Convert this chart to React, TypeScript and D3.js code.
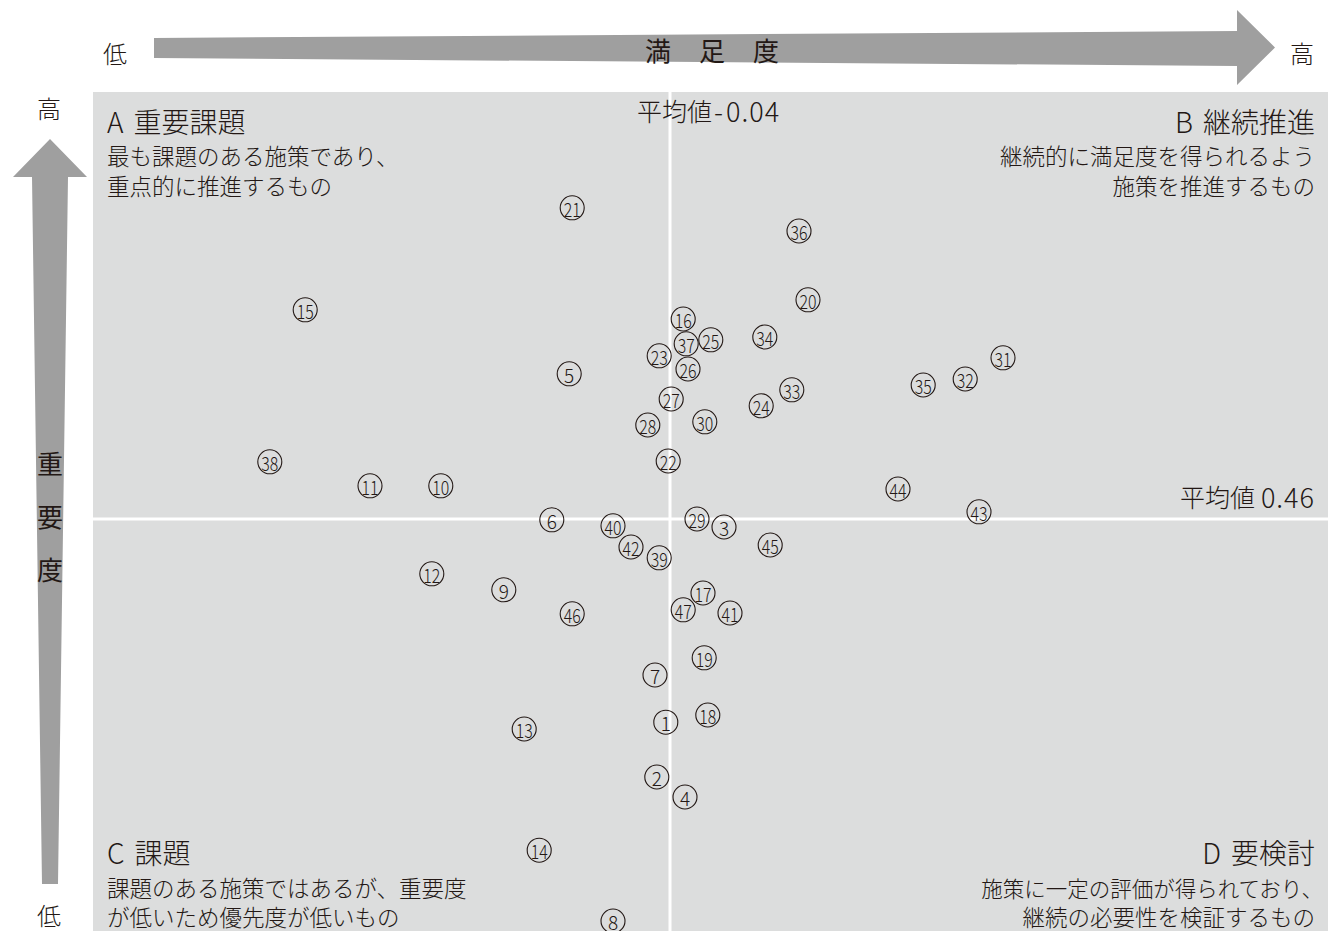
import React from 'react';
import * as d3 from 'd3';

// 施策番号ごとの満足度・重要度（平均値で原点を合わせたスコア）
const ids = [
  1, 2, 3, 4, 5, 6, 7, 8, 9, 10, 11, 12, 13, 14, 15, 16, 17, 18, 19, 20, 21, 22, 23, 24,
  25, 26, 27, 28, 29, 30, 31, 32, 33, 34, 35, 36, 37, 38, 39, 40, 41, 42, 43, 44, 45, 46, 47,
];
const satisfaction = [
  -0.047, -0.062, 0.05, -0.015, -0.208, -0.237, -0.065, -0.135, -0.317, -0.422, -0.54, -0.437,
  -0.283, -0.258, -0.648, -0.018, 0.015, 0.023, 0.017, 0.19, -0.203, -0.043, -0.058, 0.112,
  0.028, -0.01, -0.038, -0.077, 0.005, 0.018, 0.515, 0.452, 0.163, 0.118, 0.382, 0.175,
  -0.013, -0.707, -0.058, -0.135, 0.06, -0.105, 0.475, 0.34, 0.127, -0.203, -0.018,
];
const importance = [
  -0.048, -0.185, 0.44, -0.235, 0.823, 0.458, 0.07, -0.545, 0.283, 0.543, 0.543, 0.323,
  -0.065, -0.368, 0.983, 0.96, 0.275, -0.03, 0.113, 1.008, 1.238, 0.605, 0.868, 0.743,
  0.908, 0.835, 0.76, 0.695, 0.46, 0.703, 0.863, 0.81, 0.783, 0.915, 0.795, 1.18,
  0.898, 0.603, 0.363, 0.443, 0.225, 0.39, 0.478, 0.535, 0.395, 0.223, 0.233,
];

const avgSatisfaction = -0.04;
const avgImportance = 0.46;

const quadrants = [
  { key: 'A', title: '重要課題', lines: ['最も課題のある施策であり、', '重点的に推進するもの'] },
  { key: 'B', title: '継続推進', lines: ['継続的に満足度を得られるよう', '施策を推進するもの'] },
  { key: 'C', title: '課題', lines: ['課題のある施策ではあるが、重要度', 'が低いため優先度が低いもの'] },
  { key: 'D', title: '要検討', lines: ['施策に一定の評価が得られており、', '継続の必要性を検証するもの'] },
];

const W = 1328;
const H = 931;
const panel = { left: 93, top: 92, right: 1328, bottom: 931 };
const ink = '#231815';
const arrowFill = '#9f9f9f';
const jp = '"Noto Sans CJK JP", "Noto Sans", sans-serif';

const Title = ({ q, x, y, anchor }) => (
  <text x={x} y={y} fontSize={28} textAnchor={anchor} dominantBaseline="central">
    {q.key}
    <tspan dx={10}>{q.title}</tspan>
  </text>
);

const App = () => {
  // 平均値を基準に 1 単位 = 600px / 400px
  const x = d3.scaleLinear().domain([avgSatisfaction, avgSatisfaction + 1]).range([670, 1270]);
  const y = d3.scaleLinear().domain([avgImportance, avgImportance + 1]).range([519, 119]);

  const points = ids.map((id, i) => ({ id, sx: x(satisfaction[i]), sy: y(importance[i]) }));

  const hArrow = d3.line()([
    [154, 38], [1237, 31], [1237, 10], [1275, 47.5], [1237, 85], [1237, 66], [154, 58],
  ]) + 'Z';
  const vArrow = d3.line()([
    [42, 884], [32, 177], [13, 177], [50, 139], [87, 177], [68, 177], [58, 884],
  ]) + 'Z';

  return (
    <svg width={W} height={H} style={{ position: 'absolute', left: 0, top: 0, background: '#fff' }}>
      <rect x={panel.left} y={panel.top} width={panel.right - panel.left} height={panel.bottom - panel.top} fill="#dcdddd" />

      {/* 平均値の線 */}
      <line x1={x(avgSatisfaction)} x2={x(avgSatisfaction)} y1={panel.top} y2={panel.bottom} stroke="#fff" strokeWidth={3} />
      <line x1={panel.left} x2={panel.right} y1={y(avgImportance)} y2={y(avgImportance)} stroke="#fff" strokeWidth={3} />

      <path d={hArrow} fill={arrowFill} />
      <path d={vArrow} fill={arrowFill} />

      <g fontFamily={jp} fill={ink} fontWeight={300}>
        <text x={115} y={52} fontSize={24} textAnchor="middle" dominantBaseline="central">低</text>
        <text x={1302} y={52} fontSize={24} textAnchor="middle" dominantBaseline="central">高</text>
        {['満', '足', '度'].map((c, i) => (
          <text key={c} x={658 + i * 54} y={49} fontSize={26} textAnchor="middle" dominantBaseline="central" fontWeight={400}>{c}</text>
        ))}
        <text x={49} y={107} fontSize={24} textAnchor="middle" dominantBaseline="central">高</text>
        <text x={49} y={914} fontSize={24} textAnchor="middle" dominantBaseline="central">低</text>
        {['重', '要', '度'].map((c, i) => (
          <text key={c} x={50} y={462 + i * 53} fontSize={26} textAnchor="middle" dominantBaseline="central" fontWeight={400}>{c}</text>
        ))}

        {/* 象限ラベル */}
        <Title q={quadrants[0]} x={107} y={121} anchor="start" />
        {quadrants[0].lines.map((l, i) => (
          <text key={l} x={107} y={155 + i * 30} fontSize={22.5} dominantBaseline="central">{l}</text>
        ))}
        <Title q={quadrants[1]} x={1315} y={121} anchor="end" />
        {quadrants[1].lines.map((l, i) => (
          <text key={l} x={1315} y={155 + i * 30} fontSize={22.5} textAnchor="end" dominantBaseline="central">{l}</text>
        ))}
        <Title q={quadrants[2]} x={107} y={852} anchor="start" />
        {quadrants[2].lines.map((l, i) => (
          <text key={l} x={107} y={887 + i * 29} fontSize={22.5} dominantBaseline="central">{l}</text>
        ))}
        <Title q={quadrants[3]} x={1315} y={852} anchor="end" />
        <text x={1323} y={887} fontSize={21.5} textAnchor="end" dominantBaseline="central">{quadrants[3].lines[0]}</text>
        <text x={1315} y={916} fontSize={22.5} textAnchor="end" dominantBaseline="central">{quadrants[3].lines[1]}</text>

        {/* 平均値ラベル */}
        <text x={637} y={110} fontSize={25} dominantBaseline="central">
          平均値
          <tspan fontSize={27} dx={2}>-</tspan>
          <tspan fontSize={27} dx={3} letterSpacing={1}>{Math.abs(avgSatisfaction).toFixed(2)}</tspan>
        </text>
        <text x={1315} y={496} fontSize={25} textAnchor="end" dominantBaseline="central">
          平均値
          <tspan fontSize={27} dx={6} letterSpacing={1}>{avgImportance.toFixed(2)}</tspan>
        </text>
      </g>

      {/* 施策番号 */}
      <g fontFamily={jp} fill={ink}>
        {points.map(p => (
          <g key={p.id} transform={`translate(${p.sx},${p.sy})`}>
            <circle r={12} fill="none" stroke={ink} strokeWidth={1.1} />
            <text
              y={0.5}
              fontSize={19}
              textAnchor="middle"
              dominantBaseline="central"
              fontWeight={300}
              textLength={p.id >= 10 ? 17 : undefined}
              lengthAdjust="spacingAndGlyphs"
            >
              {p.id}
            </text>
          </g>
        ))}
      </g>
    </svg>
  );
};

export default App;
